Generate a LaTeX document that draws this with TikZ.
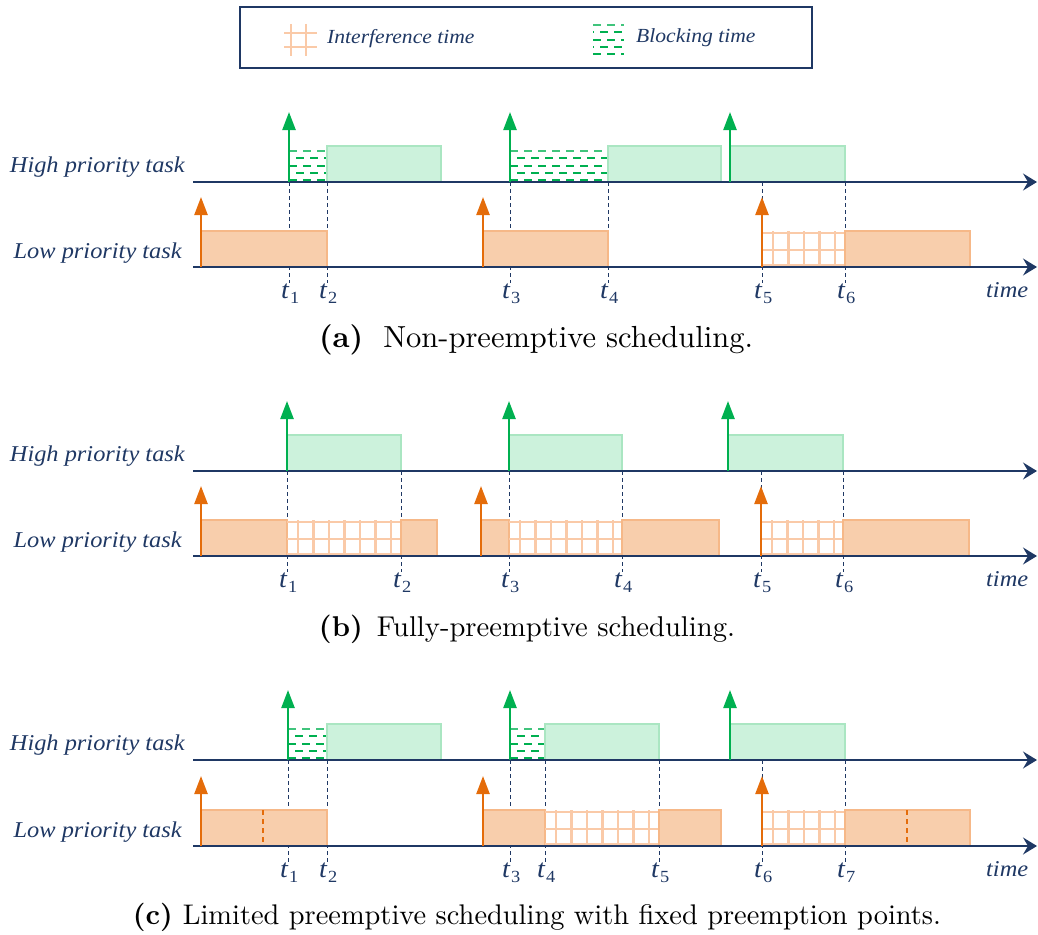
\documentclass[tikz,border=0pt]{standalone}
\usepackage{fontspec}
\newfontfamily\labfont[FakeStretch=1.08]{Liberation Serif}
\newfontfamily\capfont[BoldFont=lmroman10-bold.otf]{lmroman10-regular.otf}
\usetikzlibrary{arrows.meta}

\definecolor{navy}{RGB}{31,56,100}
\definecolor{grn}{RGB}{0,176,80}
\definecolor{grnfill}{RGB}{204,242,220}
\definecolor{grnedge}{RGB}{170,230,194}
\definecolor{org}{RGB}{228,108,10}
\definecolor{orgfill}{RGB}{248,206,172}
\definecolor{orgedge}{RGB}{246,184,136}
\definecolor{hatchcol}{RGB}{250,202,168}

\tikzset{
  axis/.style={navy, line width=1.6, -{Stealth[length=14,width=17,inset=5]}},
  hibox/.style={fill=grnfill, draw=grnedge, line width=1.5},
  lobox/.style={fill=orgfill, draw=orgedge, line width=1.5},
  relH/.style={grn, line width=2.4, -{Triangle[length=18,width=13]}},
  relL/.style={org, line width=2.4, -{Triangle[length=18,width=13]}},
  markline/.style={navy, line width=1, dash pattern=on 4 off 3},
  blkline/.style={grn, line width=2, dash pattern=on 8 off 6},
  blktop/.style={grn!75, line width=1.1, dash pattern=on 8 off 6},
  hatchline/.style={hatchcol, line width=2.2},
  orgdash/.style={org, line width=1.4, dash pattern=on 5 off 4},
  tasklab/.style={font=\labfont\itshape\fontsize{22.6}{26}\selectfont, text=navy, inner sep=0},
  leglab/.style={font=\labfont\itshape\fontsize{20}{23}\selectfont, text=navy, inner sep=0},
  tlab/.style={font=\labfont\fontsize{26}{28}\selectfont, text=navy, inner sep=0, anchor=base west},
  capnode/.style={text=black, inner sep=0},
}

% time label t with subscript index
\newcommand\tsub[1]{\textit{t}\kern0.5pt\raisebox{-5pt}{\fontsize{17}{17}\selectfont #1}}

% two time axes with their labels
\newcommand\axes[1]{%
  \coordinate (#1-hs) at (193,\yH); \coordinate (#1-he) at (1037,\yH);
  \coordinate (#1-ls) at (193,\yL); \coordinate (#1-le) at (1037,\yL);
  \draw[axis] (#1-hs) -- (#1-he);
  \draw[axis] (#1-ls) -- (#1-le);
  \node[tasklab, anchor=base east] (#1-hlab) at (185,\yH-10) {High priority task};
  \node[tasklab, anchor=base east] (#1-llab) at (182,\yL-9) {Low priority task};
  \node[tasklab, anchor=base west] (#1-time) at (986,\yL+30) {time};
}
% release arrows
\newcommand\relh[2]{\coordinate (#1) at (#2,\yH); \coordinate (#1-tip) at (#2,\yH-70);
  \draw[relH] (#1) -- (#1-tip);}
\newcommand\rell[2]{\coordinate (#1) at (#2,\yL); \coordinate (#1-tip) at (#2,\yL-70);
  \draw[relL] (#1) -- (#1-tip);}
% execution boxes
\newcommand\hibx[2]{\draw[hibox] (#1,\yH-36) rectangle (#2,\yH);}
\newcommand\lobx[2]{\draw[lobox] (#1,\yL-36) rectangle (#2,\yL);}
% blocking time pattern
\newcommand\blk[2]{%
  \begin{scope}
    \clip (#1,\yH-36) rectangle (#2,\yH+1);
    \draw[blktop] (#1,\yH-31) -- (#2,\yH-31);
    \draw[blkline, dash phase=7] (#1,\yH-24) -- (#2,\yH-24);
    \draw[blkline] (#1,\yH-16.5) -- (#2,\yH-16.5);
    \draw[blkline, dash phase=7] (#1,\yH-9) -- (#2,\yH-9);
    \draw[blkline] (#1,\yH-2.5) -- (#2,\yH-2.5);
  \end{scope}}
% interference time grid
\newcommand\intf[2]{%
  \foreach \k in {34,17,2} \draw[hatchline] (#1,\yL-\k) -- (#2,\yL-\k);
  \foreach \i in {0,...,12} {%
    \pgfmathsetmacro\xx{#1+11+15.5*\i}%
    \pgfmathparse{\xx<#2-4 ? 1 : 0}%
    \ifnum\pgfmathresult=1 \draw[hatchline] (\xx,\yL-36) -- (\xx,\yL); \fi}}
% time instant marker with label
\newcommand\mk[3]{%
  \coordinate (#1-a) at (#2,\yH); \coordinate (#1-b) at (#2,\yL+16);
  \draw[markline] (#1-a) -- (#1-b);
  \node[tlab] (#1) at (#2-8,\yL+31) {\tsub{#3}};}

\begin{document}
\begin{tikzpicture}[x=1pt,y=-1pt]
\useasboundingbox (0,0) rectangle (1038,934);

% legend
\node[draw=navy, line width=1.5, minimum width=572, minimum height=61, inner sep=0] (legend) at (526,37.5) {};
\foreach \x in {291,306} \draw[hatchline] (\x,24) -- (\x,56);
\foreach \y in {33,47} \draw[hatchline] (284,\y) -- (317,\y);
\node[leglab, anchor=base west] (leg-int) at (327,44) {Interference time};
\begin{scope}
  \clip (593,20) rectangle (624,58);
  \draw[blktop] (593,25) -- (624,25);
  \draw[blkline, dash phase=7] (593,32.5) -- (624,32.5);
  \draw[blkline] (593,40) -- (624,40);
  \draw[blkline, dash phase=7] (593,47) -- (624,47);
  \draw[blkline] (593,54.5) -- (624,54.5);
\end{scope}
\node[leglab, anchor=base west] (leg-blk) at (636,43) {Blocking time};

% (a) non-preemptive
\begin{scope}
\def\yH{182}\def\yL{267}
\mk{a-t1}{289}{1}\mk{a-t2}{327}{2}\mk{a-t3}{510}{3}
\mk{a-t4}{608}{4}\mk{a-t5}{762}{5}\mk{a-t6}{845}{6}
\blk{289}{327}\hibx{327}{441}
\blk{510}{608}\hibx{608}{721}
\hibx{730}{845}
\lobx{201}{327}
\lobx{483}{608}
\intf{762}{845}\lobx{845}{970}
\axes{a}
\relh{a-h1}{289}\relh{a-h2}{510}\relh{a-h3}{730}
\rell{a-l1}{201}\rell{a-l2}{483}\rell{a-l3}{762}
\node[capnode, font=\capfont\fontsize{30.5}{34}\selectfont] (cap-a) at (536,340)
  {\textbf{(a)}\hspace{20pt}Non-preemptive scheduling.};
\end{scope}

% (b) fully-preemptive
\begin{scope}[shift={(0,289)}]
\def\yH{182}\def\yL{267}
\mk{b-t1}{287}{1}\mk{b-t2}{401}{2}\mk{b-t3}{509}{3}
\mk{b-t4}{622}{4}\mk{b-t5}{761}{5}\mk{b-t6}{843}{6}
\hibx{287}{401}\hibx{509}{622}\hibx{728}{843}
\lobx{201}{287}\intf{287}{401}\lobx{401}{437}
\lobx{481}{509}\intf{509}{622}\lobx{622}{719}
\intf{761}{843}\lobx{843}{969}
\axes{b}
\relh{b-h1}{287}\relh{b-h2}{509}\relh{b-h3}{728}
\rell{b-l1}{201}\rell{b-l2}{481}\rell{b-l3}{761}
\node[capnode, font=\capfont\fontsize{28.6}{34}\selectfont] (cap-b) at (527,340)
  {\textbf{(b)}\hspace{14pt}Fully-preemptive scheduling.};
\end{scope}

% (c) limited preemptive with fixed preemption points
\begin{scope}[shift={(0,578)}]
\def\yH{182}\def\yL{268}
\mk{c-t1}{288}{1}\mk{c-t2}{327}{2}\mk{c-t3}{510}{3}\mk{c-t4}{545}{4}
\mk{c-t5}{659}{5}\mk{c-t6}{762}{6}\mk{c-t7}{845}{7}
\blk{288}{327}\hibx{327}{441}
\blk{510}{545}\hibx{545}{659}
\hibx{730}{845}
\lobx{201}{327}\draw[orgdash] (263,\yL-36) -- (263,\yL);
\lobx{483}{545}\intf{545}{659}\lobx{659}{721}
\intf{762}{845}\lobx{845}{970}\draw[orgdash] (907,\yL-36) -- (907,\yL);
\axes{c}
\relh{c-h1}{288}\relh{c-h2}{510}\relh{c-h3}{730}
\rell{c-l1}{201}\rell{c-l2}{483}\rell{c-l3}{762}
\node[capnode, font=\capfont\fontsize{28.4}{34}\selectfont] (cap-c) at (537,339)
  {\textbf{(c)}\hspace{10pt}Limited preemptive scheduling with fixed preemption points.};
\end{scope}
\end{tikzpicture}
\end{document}
